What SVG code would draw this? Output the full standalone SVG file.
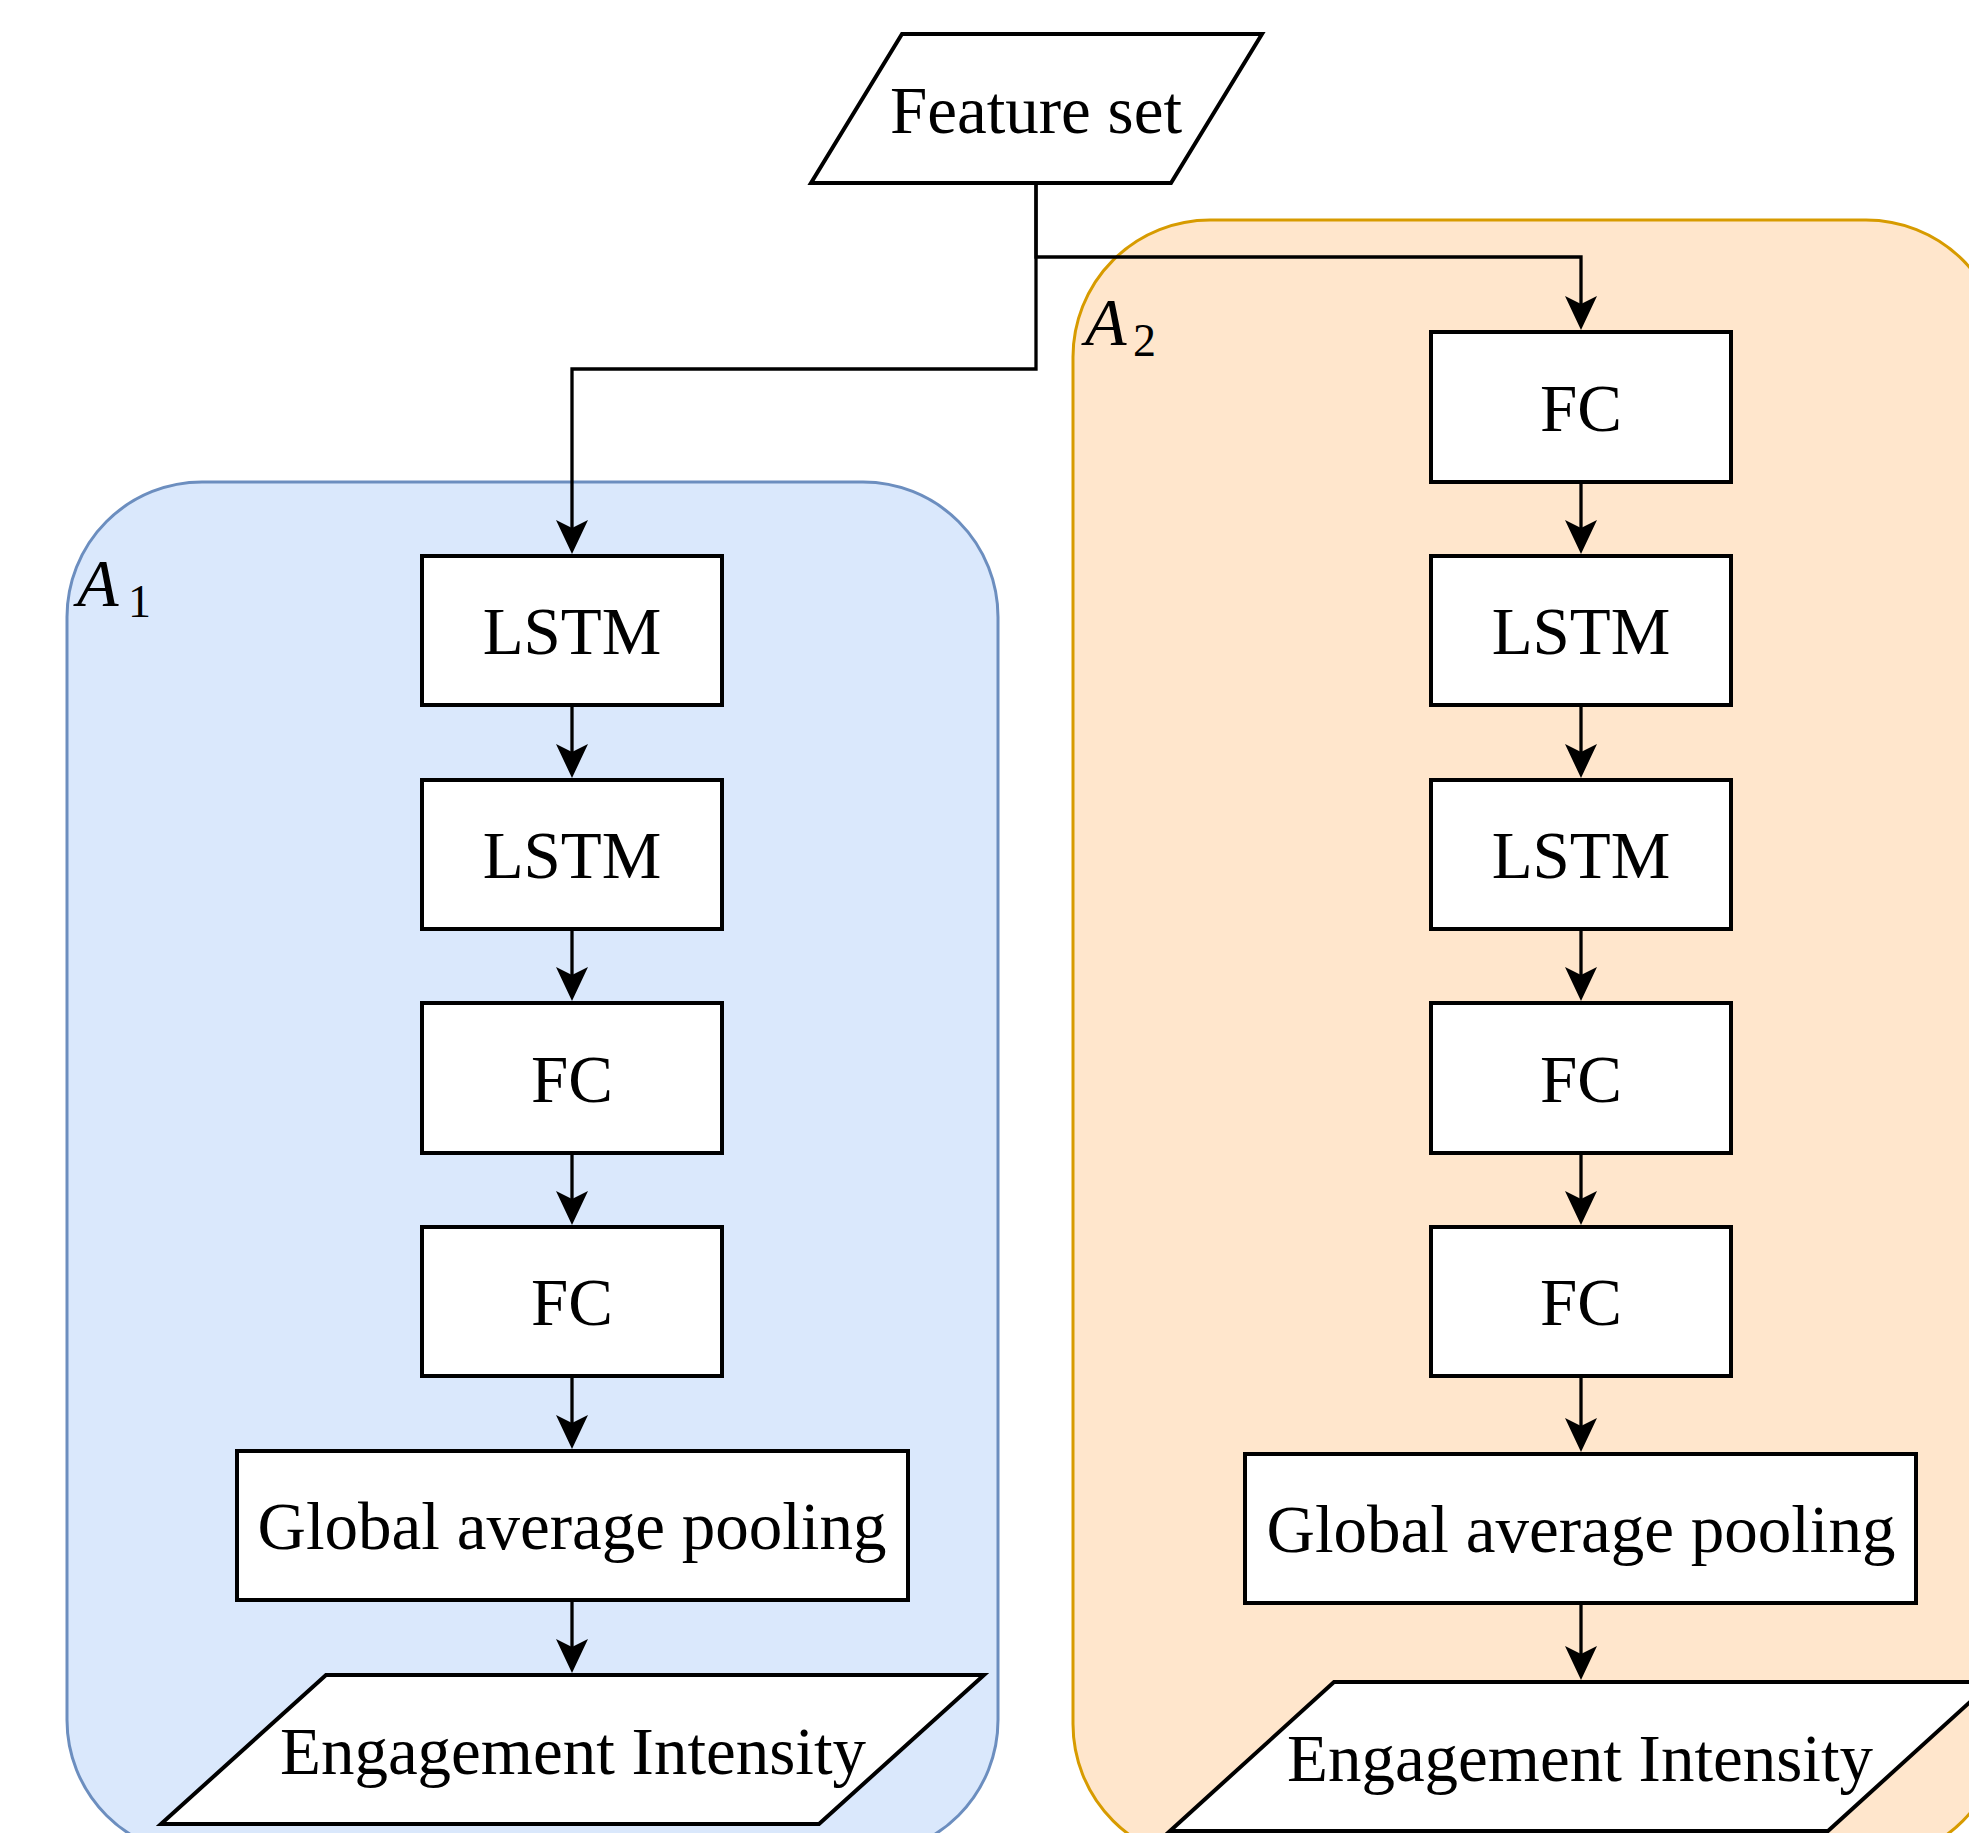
<svg xmlns="http://www.w3.org/2000/svg" width="1969" height="1833" viewBox="0 0 1969 1833">
<style>
.node{fill:#ffffff;stroke:#000000;stroke-width:4}
.lbl{font-family:"Liberation Serif","Times New Roman",serif;font-size:67px;fill:#000000;text-anchor:middle}
.glbl{font-family:"Liberation Serif","Times New Roman",serif;font-style:italic;font-size:68px;fill:#000000}
.sub{font-family:"Liberation Serif","Times New Roman",serif;font-size:46px;fill:#000000}
.edge{fill:none;stroke:#000000;stroke-width:3.3;marker-end:url(#arr)}
</style>
<defs>
<marker id="arr" viewBox="0 0 34 32" markerUnits="userSpaceOnUse" markerWidth="34" markerHeight="32" refX="14" refY="16" orient="auto">
<path d="M0,0 L34,16 L0,32 L8,16 Z" fill="#000000"/>
</marker>
</defs>
<rect width="1969" height="1833" fill="#ffffff"/>
<g id="groupA1">
<rect x="67" y="482" width="931" height="1373" rx="135" ry="135" fill="#dae8fc" stroke="#6c8ebf" stroke-width="3"/>
<text class="glbl" x="77" y="606">A</text><text class="sub" x="128" y="617">1</text>
</g>
<g id="groupA2">
<rect x="1073" y="220" width="930" height="1641" rx="137" ry="137" fill="#ffe6cc" stroke="#d79b00" stroke-width="3"/>
<text class="glbl" x="1085" y="345">A</text><text class="sub" x="1133" y="356">2</text>
</g>
<g id="connectors">
<path class="edge" d="M1036,183 V257 H1581 V310"/>
<path class="edge" d="M1036,183 V369 H572 V534"/>
<path class="edge" d="M572,705 V758"/>
<path class="edge" d="M572,929 V981"/>
<path class="edge" d="M572,1153 V1205"/>
<path class="edge" d="M572,1376 V1429"/>
<path class="edge" d="M572,1600 V1653"/>
<path class="edge" d="M1581,482 V534"/>
<path class="edge" d="M1581,705 V758"/>
<path class="edge" d="M1581,929 V981"/>
<path class="edge" d="M1581,1153 V1205"/>
<path class="edge" d="M1581,1376 V1432"/>
<path class="edge" d="M1581,1603 V1660"/>
</g>
<g id="feature-set">
<path class="node" d="M902,34 H1262 L1171,183 H811 Z"/>
<text class="lbl" x="1036" y="133">Feature set</text>
</g>
<g id="a1-lstm1"><rect class="node" x="422" y="556" width="300" height="149"/><text class="lbl" x="572" y="654">LSTM</text></g>
<g id="a1-lstm2"><rect class="node" x="422" y="780" width="300" height="149"/><text class="lbl" x="572" y="878">LSTM</text></g>
<g id="a1-fc1"><rect class="node" x="422" y="1003" width="300" height="150"/><text class="lbl" x="572" y="1102">FC</text></g>
<g id="a1-fc2"><rect class="node" x="422" y="1227" width="300" height="149"/><text class="lbl" x="572" y="1325">FC</text></g>
<g id="a1-gap"><rect class="node" x="237" y="1451" width="671" height="149"/><text class="lbl" x="572" y="1549">Global average pooling</text></g>
<g id="a1-out"><path class="node" d="M326,1675 H984 L819,1824 H161 Z"/><text class="lbl" x="573" y="1774">Engagement Intensity</text></g>
<g id="a2-fc1"><rect class="node" x="1431" y="332" width="300" height="150"/><text class="lbl" x="1581" y="431">FC</text></g>
<g id="a2-lstm1"><rect class="node" x="1431" y="556" width="300" height="149"/><text class="lbl" x="1581" y="654">LSTM</text></g>
<g id="a2-lstm2"><rect class="node" x="1431" y="780" width="300" height="149"/><text class="lbl" x="1581" y="878">LSTM</text></g>
<g id="a2-fc2"><rect class="node" x="1431" y="1003" width="300" height="150"/><text class="lbl" x="1581" y="1102">FC</text></g>
<g id="a2-fc3"><rect class="node" x="1431" y="1227" width="300" height="149"/><text class="lbl" x="1581" y="1325">FC</text></g>
<g id="a2-gap"><rect class="node" x="1245" y="1454" width="671" height="149"/><text class="lbl" x="1581" y="1552">Global average pooling</text></g>
<g id="a2-out"><path class="node" d="M1334,1682 H1992 L1828,1831 H1170 Z"/><text class="lbl" x="1580" y="1781">Engagement Intensity</text></g>
</svg>
